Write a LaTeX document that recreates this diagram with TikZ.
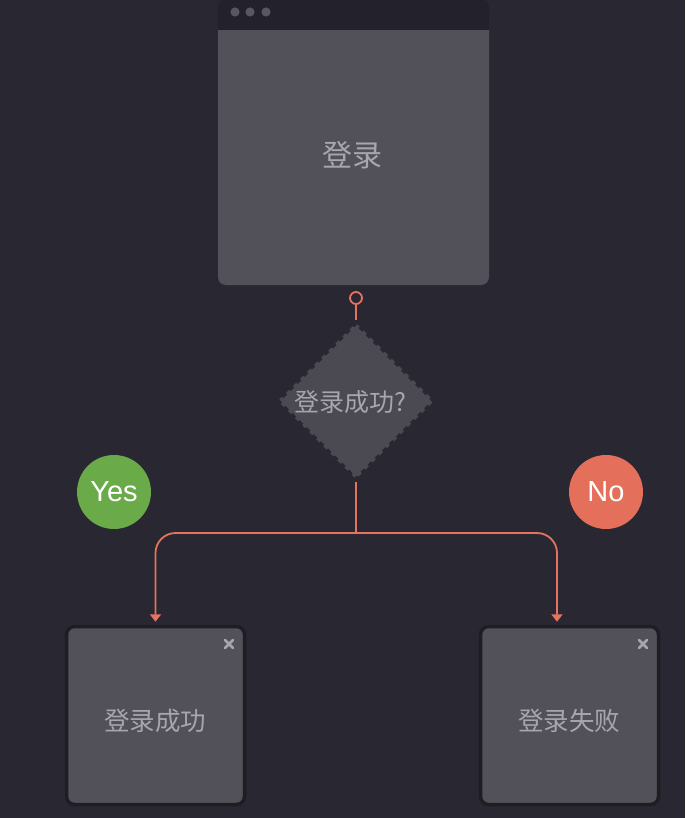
\documentclass[tikz,border=0pt]{standalone}
\usepackage{fontspec}
\setmainfont{Liberation Sans}
\newfontfamily\cjk{Noto Sans CJK SC}
\usetikzlibrary{shapes.geometric,arrows.meta}
\definecolor{bgc}{RGB}{41,39,49}
\definecolor{barc}{RGB}{35,33,43}
\definecolor{bodyc}{RGB}{82,80,88}
\definecolor{diac}{RGB}{75,73,81}
\definecolor{dotc}{RGB}{88,86,95}
\definecolor{txtc}{RGB}{168,166,173}
\definecolor{shadc}{RGB}{30,29,36}
\definecolor{orng}{RGB}{229,115,96}
\definecolor{yesc}{RGB}{106,170,72}
\definecolor{noc}{RGB}{228,112,92}
\tikzset{
  conn/.style={draw=orng, line width=1.8pt},
  arr/.style={conn, -{Triangle[width=11pt,length=7.5pt]}, shorten >=3pt},
  card/.style={rectangle, rounded corners=8pt, fill=bodyc, draw=shadc, line width=3.5pt,
    minimum width=178pt, minimum height=178pt, inner sep=0pt},
  cardtxt/.style={font=\cjk\fontsize{25.5}{29}\selectfont, text=txtc},
  badge/.style={circle, minimum size=74pt, inner sep=0pt, text=white,
    font=\fontsize{29}{32}\selectfont},
  closex/.style={draw=txtc, line width=2.6pt, line cap=round}
}
\begin{document}
\begin{tikzpicture}[x=1pt,y=-1pt]
\fill[bgc] (0,0) rectangle (685,818);
\useasboundingbox (0,0) rectangle (685,818);
% main window
\fill[bodyc, rounded corners=8pt] (218,20) rectangle (489,285);
\fill[barc, rounded corners=6pt] (218,0) rectangle (489,20);
\fill[barc] (218,10) rectangle (489,30);
\foreach \xx in {235,250,266} \fill[dotc] (\xx,12) circle (4.6pt);
\node[font=\cjk\fontsize{30}{34}\selectfont, text=txtc] (login) at (352,155) {登录};
% port circle
\node[circle, draw=orng, line width=1.8pt, fill=bgc, minimum size=12pt, inner sep=0pt] (port) at (356,298) {};
% decision diamond
\node[diamond, fill=diac, draw=bgc, line width=4pt, dash pattern=on 5pt off 5pt,
      minimum width=158pt, minimum height=158pt, inner sep=0pt] (dia) at (356,401) {};
\node[font=\cjk\fontsize{25}{29}\selectfont, text=txtc] (diatxt) at (350,402) {登录成功?};
\draw[conn] (port) -- (dia.north);
% result cards
\node[card] (ok) at (155.5,715.5) {};
\node[card] (fail) at (569.5,715.5) {};
\node[cardtxt] (oktxt) at (155,721) {登录成功};
\node[cardtxt] (failtxt) at (569,721) {登录失败};
\draw[closex] (225,640) -- (233,648) (233,640) -- (225,648);
\draw[closex] (639,640) -- (647,648) (647,640) -- (639,648);
% connectors
\coordinate (split) at (356,533);
\draw[conn] (dia.south) -- (split);
\draw[arr, rounded corners=20pt] (split) -| (ok.north);
\draw[arr, rounded corners=20pt] (split) -| ([xshift=-12.5pt]fail.north);
% badges
\node[badge, fill=yesc] (yes) at (114,492) {Yes};
\node[badge, fill=noc] (no) at (606,492) {No};
\end{tikzpicture}
\end{document}
